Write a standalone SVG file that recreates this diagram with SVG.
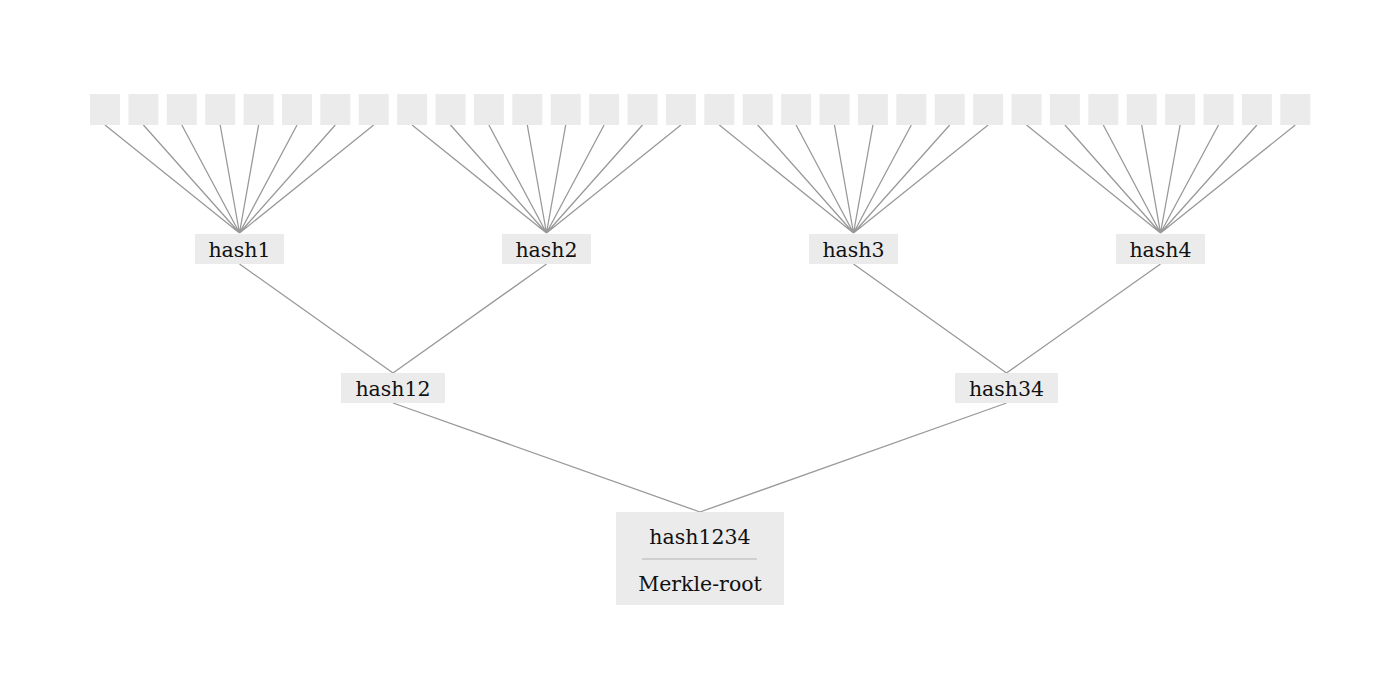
<svg xmlns="http://www.w3.org/2000/svg" width="1400" height="700" viewBox="0 0 1400 700">
  <style>
    .leaf { fill: #ebebeb; }
    .box { fill: #ebebeb; }
    .lbl { font-family: "DejaVu Serif", "Liberation Serif", serif; font-size: 20.5px; fill: #111; text-anchor: middle; }
    .edge { stroke: #999999; stroke-width: 1.3; fill: none; }
  </style>
  <rect width="1400" height="700" fill="#ffffff"/>

  <!-- connectors -->
  <g id="connectors" class="edge">
    <!-- leaves to hash1 -->
    <path d="M105,125 L239.5,233 M143.4,125 L239.5,233 M181.8,125 L239.5,233 M220.2,125 L239.5,233 M258.6,125 L239.5,233 M297,125 L239.5,233 M335.3,125 L239.5,233 M373.7,125 L239.5,233"/>
    <!-- leaves to hash2 -->
    <path d="M412.1,125 L546.5,233 M450.5,125 L546.5,233 M488.9,125 L546.5,233 M527.3,125 L546.5,233 M565.7,125 L546.5,233 M604.1,125 L546.5,233 M642.5,125 L546.5,233 M680.9,125 L546.5,233"/>
    <!-- leaves to hash3 -->
    <path d="M719.3,125 L853.5,233 M757.7,125 L853.5,233 M796.1,125 L853.5,233 M834.5,125 L853.5,233 M872.9,125 L853.5,233 M911.3,125 L853.5,233 M949.7,125 L853.5,233 M988.1,125 L853.5,233"/>
    <!-- leaves to hash4 -->
    <path d="M1026.5,125 L1160.5,233 M1064.9,125 L1160.5,233 M1103.3,125 L1160.5,233 M1141.7,125 L1160.5,233 M1180.1,125 L1160.5,233 M1218.5,125 L1160.5,233 M1256.9,125 L1160.5,233 M1295.3,125 L1160.5,233"/>
    <!-- second level -->
    <path d="M239.5,264 L393,373 M546.5,264 L393,373"/>
    <path d="M853.5,264 L1006.5,373 M1160.5,264 L1006.5,373"/>
    <!-- to root -->
    <path d="M393,403 L700,512 M1006.5,403 L700,512"/>
  </g>

  <!-- data blocks -->
  <g id="leaves">
    <rect class="leaf" x="90" y="94" width="30" height="31"/>
    <rect class="leaf" x="128.4" y="94" width="30" height="31"/>
    <rect class="leaf" x="166.8" y="94" width="30" height="31"/>
    <rect class="leaf" x="205.2" y="94" width="30" height="31"/>
    <rect class="leaf" x="243.6" y="94" width="30" height="31"/>
    <rect class="leaf" x="282" y="94" width="30" height="31"/>
    <rect class="leaf" x="320.3" y="94" width="30" height="31"/>
    <rect class="leaf" x="358.7" y="94" width="30" height="31"/>
    <rect class="leaf" x="397.1" y="94" width="30" height="31"/>
    <rect class="leaf" x="435.5" y="94" width="30" height="31"/>
    <rect class="leaf" x="473.9" y="94" width="30" height="31"/>
    <rect class="leaf" x="512.3" y="94" width="30" height="31"/>
    <rect class="leaf" x="550.7" y="94" width="30" height="31"/>
    <rect class="leaf" x="589.1" y="94" width="30" height="31"/>
    <rect class="leaf" x="627.5" y="94" width="30" height="31"/>
    <rect class="leaf" x="665.9" y="94" width="30" height="31"/>
    <rect class="leaf" x="704.3" y="94" width="30" height="31"/>
    <rect class="leaf" x="742.7" y="94" width="30" height="31"/>
    <rect class="leaf" x="781.1" y="94" width="30" height="31"/>
    <rect class="leaf" x="819.5" y="94" width="30" height="31"/>
    <rect class="leaf" x="857.9" y="94" width="30" height="31"/>
    <rect class="leaf" x="896.3" y="94" width="30" height="31"/>
    <rect class="leaf" x="934.7" y="94" width="30" height="31"/>
    <rect class="leaf" x="973.1" y="94" width="30" height="31"/>
    <rect class="leaf" x="1011.5" y="94" width="30" height="31"/>
    <rect class="leaf" x="1049.9" y="94" width="30" height="31"/>
    <rect class="leaf" x="1088.3" y="94" width="30" height="31"/>
    <rect class="leaf" x="1126.7" y="94" width="30" height="31"/>
    <rect class="leaf" x="1165.1" y="94" width="30" height="31"/>
    <rect class="leaf" x="1203.5" y="94" width="30" height="31"/>
    <rect class="leaf" x="1241.9" y="94" width="30" height="31"/>
    <rect class="leaf" x="1280.3" y="94" width="30" height="31"/>
  </g>

  <g id="hash1">
    <rect class="box" x="195" y="234" width="89" height="30"/>
    <text class="lbl" x="239.5" y="257">hash1</text>
  </g>
  <g id="hash2">
    <rect class="box" x="502" y="234" width="89" height="30"/>
    <text class="lbl" x="546.5" y="257">hash2</text>
  </g>
  <g id="hash3">
    <rect class="box" x="809" y="234" width="89" height="30"/>
    <text class="lbl" x="853.5" y="257">hash3</text>
  </g>
  <g id="hash4">
    <rect class="box" x="1116" y="234" width="89" height="30"/>
    <text class="lbl" x="1160.5" y="257">hash4</text>
  </g>

  <g id="hash12">
    <rect class="box" x="341" y="373" width="104" height="30"/>
    <text class="lbl" x="393" y="396">hash12</text>
  </g>
  <g id="hash34">
    <rect class="box" x="955" y="373" width="103" height="30"/>
    <text class="lbl" x="1006.5" y="396">hash34</text>
  </g>

  <g id="root">
    <rect class="box" x="616" y="512" width="168" height="93"/>
    <text class="lbl" x="700" y="543.5">hash1234</text>
    <line x1="642" y1="559" x2="757" y2="559" stroke="#b4b4b4" stroke-width="1.2"/>
    <text class="lbl" x="700" y="590.5">Merkle-root</text>
  </g>
</svg>
